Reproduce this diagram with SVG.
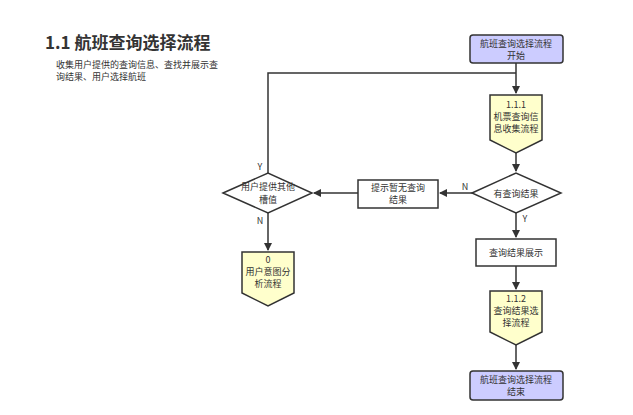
<svg xmlns="http://www.w3.org/2000/svg" width="633" height="415" viewBox="0 0 633 415">
<style>
text{font-family:"Noto Sans CJK SC","Liberation Sans",sans-serif;font-size:9px;fill:#333;text-anchor:middle}
.term{fill:#ccccff;stroke:#333;stroke-width:1.5}
.off{fill:#ffffcc;stroke:#333;stroke-width:1.5}
.box{fill:#fff;stroke:#333;stroke-width:1.5}
.c{fill:none;stroke:#333;stroke-width:1.5}
</style>
<defs><marker id="a" markerWidth="8" markerHeight="8" refX="7" refY="4" orient="auto" markerUnits="userSpaceOnUse"><path d="M0,0L8,4L0,8z" fill="#333"/></marker></defs>
<rect width="633" height="415" fill="#fff"/>
<text x="45" y="49" style="font-size:17px;font-weight:bold;text-anchor:start">1.1 航班查询选择流程</text>
<text x="56" y="68" style="font-size:9px;text-anchor:start">收集用户提供的查询信息、查找并展示查</text>
<text x="56" y="80" style="font-size:9px;text-anchor:start">询结果、用户选择航班</text>
<g id="connectors">
<path class="c" d="M516,63V93" marker-end="url(#a)"/>
<path class="c" d="M268,173V73H516" />
<path class="c" d="M516,153V171" marker-end="url(#a)"/>
<path class="c" d="M472,193H440" marker-end="url(#a)"/>
<path class="c" d="M358,193H314" marker-end="url(#a)"/>
<path class="c" d="M268,213V250" marker-end="url(#a)"/>
<path class="c" d="M516,213V237" marker-end="url(#a)"/>
<path class="c" d="M516,266V289" marker-end="url(#a)"/>
<path class="c" d="M516,345V369" marker-end="url(#a)"/>
<text x="465" y="190">N</text>
<text x="260" y="170">Y</text>
<text x="260" y="224">N</text>
<text x="525" y="222">Y</text>
</g>
<g id="start"><rect class="term" x="470" y="35" width="93" height="28" rx="3"/><text x="516" y="47">航班查询选择流程</text><text x="516" y="59">开始</text></g>
<g id="p111"><path class="off" d="M490,95H542V140L516,153L490,140Z"/><text x="516" y="108">1.1.1</text><text x="516" y="120">机票查询信</text><text x="516" y="132">息收集流程</text></g>
<g id="d1"><path class="box" d="M472,193L516,173L561,193L516,213Z"/><text x="516" y="197">有查询结果</text></g>
<g id="nores"><rect class="box" x="358" y="180" width="80" height="28"/><text x="398" y="191">提示暂无查询</text><text x="398" y="203">结果</text></g>
<g id="d2"><path class="box" d="M223,193L268,173L312,193L268,213Z"/><text x="268" y="190">用户提供其他</text><text x="268" y="203">槽值</text></g>
<g id="p0"><path class="off" d="M242,252H294V293L268,306L242,293Z"/><text x="268" y="263">0</text><text x="268" y="275">用户意图分</text><text x="268" y="287">析流程</text></g>
<g id="show"><rect class="box" x="476" y="239" width="80" height="27"/><text x="516" y="256">查询结果展示</text></g>
<g id="p112"><path class="off" d="M490,291H542V332L516,345L490,332Z"/><text x="516" y="302">1.1.2</text><text x="516" y="314">查询结果选</text><text x="516" y="326">择流程</text></g>
<g id="end"><rect class="term" x="470" y="371" width="93" height="29" rx="3"/><text x="516" y="383">航班查询选择流程</text><text x="516" y="395">结束</text></g>
</svg>
